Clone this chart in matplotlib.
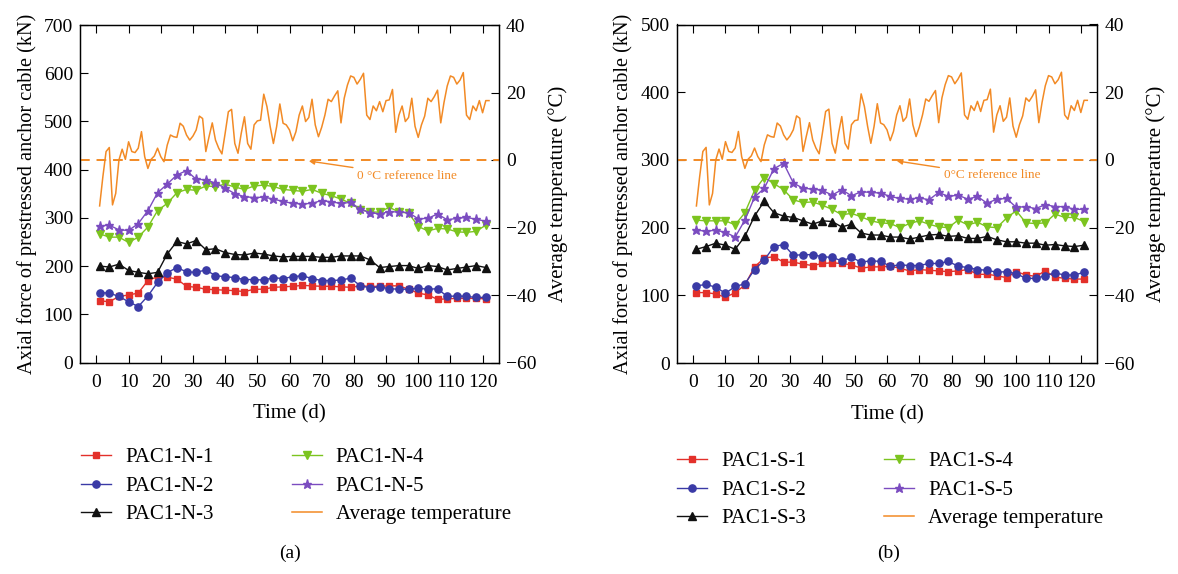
import matplotlib
matplotlib.use("Agg")
import matplotlib.pyplot as plt

plt.rcParams['font.family'] = ['Liberation Serif', 'DejaVu Serif']
plt.rcParams['font.size'] = 14

# sampling days of the anchor cable readings and of the daily temperature
marker_days = list(range(1, 122, 3))
temp_days = list(range(1, 123))

# average daily temperature (°C)
avg_temp = [-13.6, -5, 2.5, 3.7, -13.3, -9.9, 0, 3.2, 0.2, 5.4,
            2.5, 2.2, 3.5, 8.4, 1, -2.5, 0.2, 1.2, 3.5, 1,
            -0.5, 4.4, 7.4, 6.9, 6.7, 10.9, 10, 7.4, 5.9, 7.1,
            8.9, 13, 12.3, 2.5, 6.9, 11, 5.9, 3.5, 1.8, 7.9,
            14.3, 15, 4.9, 2, 7.9, 12.8, 4.9, 3.2, 10.4, 11.6,
            11.8, 19.5, 15.8, 9.9, 4.9, 9.9, 16.6, 10.9, 10.4, 8.9,
            5.7, 8.4, 13.3, 16, 11.4, 12.6, 18, 10.4, 6.9, 9.7,
            13.3, 18, 17.3, 19, 20.5, 11, 18.3, 22.2, 24.9, 24.5,
            22.5, 23.9, 25.7, 13.3, 12, 16, 14.6, 17.3, 14.3, 17.6,
            17.8, 20.9, 8.2, 13.3, 16, 11.4, 12.6, 18.3, 10, 6.7,
            10.4, 13, 18.3, 17.3, 18.8, 20.7, 11, 17, 21.9, 24.9,
            24.5, 22.5, 23.7, 25.9, 13.3, 12, 16, 14.6, 17.6, 14,
            17.6, 17.6]

# north side cables (kN)
n_labels = ['PAC1-N-1', 'PAC1-N-2', 'PAC1-N-3', 'PAC1-N-4', 'PAC1-N-5']
pac_n1 = [128, 126, 137, 140, 144, 170, 178, 177, 173, 158, 156, 152, 151, 150,
          149, 147, 152, 152, 156, 157, 158, 160, 159, 158, 158, 157, 156, 159,
          158, 158, 159, 159, 152, 144, 140, 131, 132, 133, 133, 133, 132]
pac_n2 = [145, 144, 137, 126, 116, 138, 166, 186, 197, 188, 187, 192, 180, 178,
          176, 172, 172, 171, 176, 174, 178, 180, 174, 170, 170, 171, 175, 159,
          155, 157, 153, 152, 152, 154, 152, 153, 137, 138, 137, 135, 135]
pac_n3 = [200, 198, 204, 191, 187, 184, 187, 225, 251, 246, 253, 234, 236, 228,
          224, 223, 227, 225, 221, 219, 220, 220, 220, 218, 218, 221, 221, 221,
          213, 197, 199, 201, 201, 195, 201, 199, 192, 195, 198, 201, 197]
pac_n4 = [267, 260, 260, 249, 260, 281, 315, 330, 352, 359, 357, 366, 365, 370,
          364, 359, 366, 368, 365, 359, 357, 355, 359, 351, 346, 339, 330, 317,
          312, 312, 322, 312, 310, 282, 273, 278, 277, 271, 270, 272, 285]
pac_n5 = [283, 285, 275, 274, 288, 315, 352, 370, 389, 398, 380, 379, 372, 362,
          350, 344, 342, 343, 339, 334, 330, 329, 330, 336, 333, 330, 332, 318,
          311, 308, 313, 312, 311, 298, 299, 308, 296, 299, 301, 297, 293]

# south side cables (kN)
s_labels = ['PAC1-S-1', 'PAC1-S-2', 'PAC1-S-3', 'PAC1-S-4', 'PAC1-S-5']
pac_s1 = [104, 104, 102, 97, 104, 115, 142, 155, 157, 149, 149, 146, 144, 147,
          148, 147, 145, 140, 142, 142, 143, 140, 136, 138, 137, 136, 135, 136,
          138, 131, 131, 129, 126, 135, 130, 128, 136, 127, 125, 124, 124]
pac_s2 = [114, 116, 112, 103, 113, 117, 138, 152, 172, 175, 159, 160, 160, 157,
          156, 151, 156, 149, 151, 150, 143, 145, 144, 144, 147, 147, 150, 143,
          141, 138, 137, 134, 135, 132, 125, 125, 129, 133, 130, 130, 134]
pac_s3 = [168, 172, 177, 174, 168, 187, 217, 239, 222, 217, 215, 210, 205, 210,
          209, 201, 205, 192, 189, 189, 186, 186, 183, 186, 189, 190, 187, 188,
          184, 184, 187, 182, 179, 179, 177, 177, 174, 175, 173, 172, 174]
pac_s4 = [211, 210, 210, 210, 204, 222, 255, 274, 265, 256, 241, 237, 238, 233,
          227, 219, 221, 216, 210, 207, 206, 200, 206, 210, 205, 201, 200, 211,
          204, 208, 201, 200, 214, 225, 207, 206, 207, 220, 215, 215, 209]
pac_s5 = [196, 195, 196, 193, 186, 211, 245, 258, 287, 295, 266, 258, 257, 255,
          248, 256, 247, 253, 252, 251, 246, 243, 242, 244, 241, 252, 246, 248,
          242, 246, 236, 242, 243, 230, 231, 228, 234, 231, 231, 227, 227]

colors = ['#e3302a', '#3a3aa6', '#111111', '#7cc41f', '#7b4cc0']
markers = ['s', 'o', '^', 'v', '*']
msizes = [4.6, 5.2, 5.6, 5.8, 6.8]
orange = '#f28a25'


def draw_panel(ax, series, labels, ymax, note, note_tip, note_pos):
    handles = []
    for vals, lab, c, m, ms in zip(series, labels, colors, markers, msizes):
        h, = ax.plot(marker_days, vals, color=c, marker=m, ms=ms, lw=1.0,
                     label=lab)
        handles.append(h)
    ax.set_xlim(-5.1, 125.1)
    ax.set_ylim(0, ymax)
    ax.set_xticks(range(0, 121, 10))
    ax.set_yticks(range(0, ymax + 1, 100))
    ax.set_xlabel('Time (d)', labelpad=10, fontsize=15)
    ax.set_ylabel('Axial force of prestressed anchor cable (kN)', labelpad=5,
                  fontsize=14.6)
    ax.tick_params(direction='in', length=6, top=True, width=0.8, pad=5)
    ax.tick_params(axis='x', pad=8)

    ax2 = ax.twinx()
    t, = ax2.plot(temp_days, avg_temp, color=orange, lw=1.1,
                  label='Average temperature')
    ax2.axhline(0, color=orange, lw=1.4, ls=(0, (5, 3.5)))
    ax2.set_ylim(-60, 40)
    ax2.set_yticks(range(-60, 41, 20))
    ax2.set_ylabel('Average temperature (°C)', labelpad=8, fontsize=15)
    ax2.tick_params(direction='in', length=6, width=0.8, pad=5)
    ax2.annotate(note, xy=note_tip, xytext=note_pos, color=orange,
                 fontsize=9.5, va='center', ha='left',
                 arrowprops=dict(arrowstyle='-|>', color=orange, lw=1,
                                 mutation_scale=8, shrinkA=1, shrinkB=0))
    for a in (ax, ax2):
        for s in a.spines.values():
            s.set_linewidth(0.9)
    handles.append(t)
    return handles


fig = plt.figure(figsize=(11.78, 5.74), dpi=100)
ax_a = fig.add_axes([80 / 1178, 1 - 362.5 / 574, 419 / 1178, 337.5 / 574])
ax_b = fig.add_axes([676.7 / 1178, 1 - 363 / 574, 420.6 / 1178, 338.5 / 574])

h_a = draw_panel(ax_a, [pac_n1, pac_n2, pac_n3, pac_n4, pac_n5], n_labels, 700,
                 '0 °C reference line', (66, -0.3), (81, -4.6))
h_b = draw_panel(ax_b, [pac_s1, pac_s2, pac_s3, pac_s4, pac_s5], s_labels, 500,
                 '0°C reference line', (63, -0.3), (77.5, -4.6))

for handles, x0, y0 in ((h_a, 62, 429), (h_b, 658, 433)):
    fig.legend(handles, [h.get_label() for h in handles], ncol=2,
               loc='upper left', bbox_to_anchor=(x0 / 1178, 1 - y0 / 574),
               frameon=False, handlelength=1.45, handletextpad=0.67,
               columnspacing=3.75, labelspacing=0.43, fontsize=15)

fig.text(290 / 1178, 1 - 553 / 574, '(a)', ha='center', va='center', fontsize=14)
fig.text(889 / 1178, 1 - 553 / 574, '(b)', ha='center', va='center', fontsize=14)

fig.savefig('out.png', dpi=100)
